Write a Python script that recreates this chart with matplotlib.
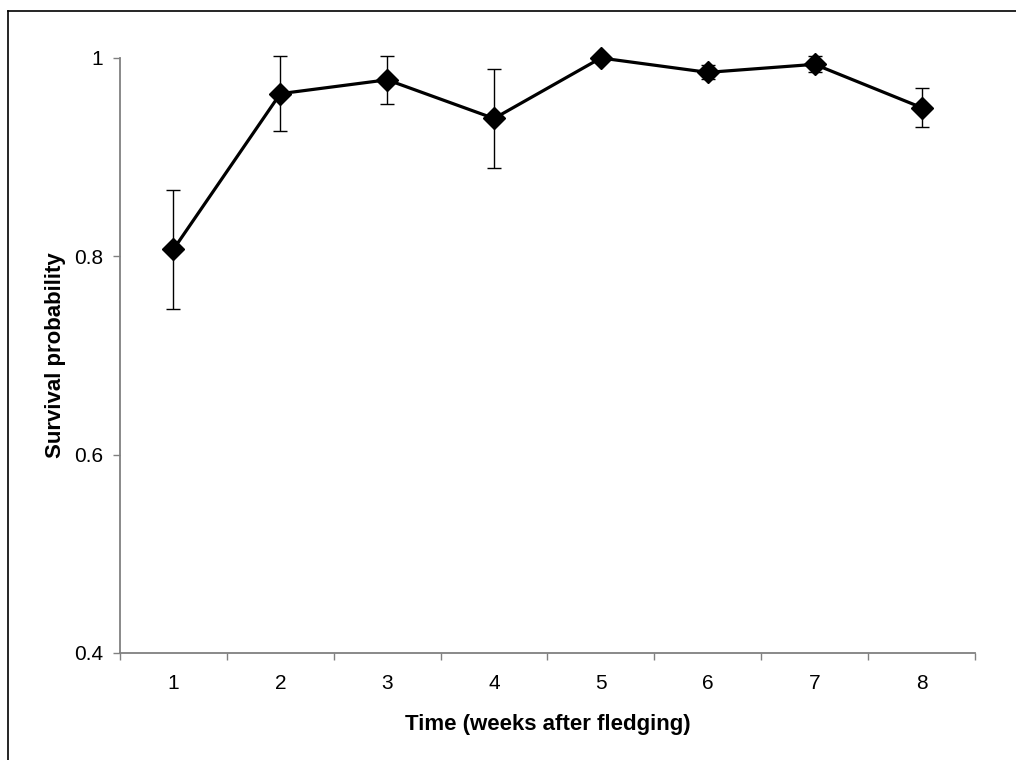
import numpy as np
import matplotlib.pyplot as plt
from matplotlib.lines import Line2D

plt.rcParams['font.family'] = ['Liberation Sans', 'DejaVu Sans']

weeks = ['1', '2', '3', '4', '5', '6', '7', '8']
survival = [0.807, 0.964, 0.978, 0.939, 1.0, 0.9855, 0.9936, 0.950]
err = [0.060, 0.038, 0.024, 0.050, 0.0, 0.007, 0.008, 0.020]
yticks = [0.4, 0.6, 0.8, 1.0]
ylabels = ['0.4', '0.6', '0.8', '1']

fig = plt.figure(figsize=(10.16, 7.6), dpi=100)
ax = fig.add_axes([0.1181, 0.1408, 0.8415, 0.7829])

x = np.arange(len(weeks))
eb = ax.errorbar(x, survival, yerr=err, fmt='none', ecolor='black', elinewidth=1.0,
                 capsize=4.7, capthick=1.0, zorder=2)
for art in eb.lines[1] + eb.lines[2]:
    art.set_clip_on(False)
ax.plot(x, survival, color='black', lw=2.3, marker='D', markersize=11, zorder=3,
        clip_on=False)

ax.set_xlim(-0.5, len(weeks) - 0.5)
ax.set_ylim(0.4, 1.0)
ax.set_yticks(yticks)
ax.set_yticklabels(ylabels)

# category ticks at boundaries, labels centred on categories
ax.set_xticks(np.arange(-0.5, len(weeks), 1.0))
ax.set_xticklabels([])
ax.set_xticks(x, minor=True)
ax.set_xticklabels(weeks, minor=True)
ax.tick_params(axis='x', which='minor', length=0, pad=15, labelsize=15)
ax.tick_params(axis='x', which='major', length=5, width=1, color='#808080')
ax.tick_params(axis='y', length=5, width=1, color='#808080', pad=7, labelsize=15)

for s in ['top', 'right']:
    ax.spines[s].set_visible(False)
for s in ['left', 'bottom']:
    ax.spines[s].set_color('#808080')
    ax.spines[s].set_linewidth(1.3)

ax.set_xlabel('Time (weeks after fledging)', fontsize=16, fontweight='bold', labelpad=15)
ax.set_ylabel('Survival probability', fontsize=16, fontweight='bold', labelpad=6)

# outer frame (only top and left visible in the original)
fig.add_artist(Line2D([8/1016, 1.0], [1 - 11/760, 1 - 11/760], color='black', lw=1.2,
                      transform=fig.transFigure))
fig.add_artist(Line2D([8/1016, 8/1016], [0.0, 1 - 11/760], color='black', lw=1.2,
                      transform=fig.transFigure))

fig.savefig('out.png', dpi=100)
